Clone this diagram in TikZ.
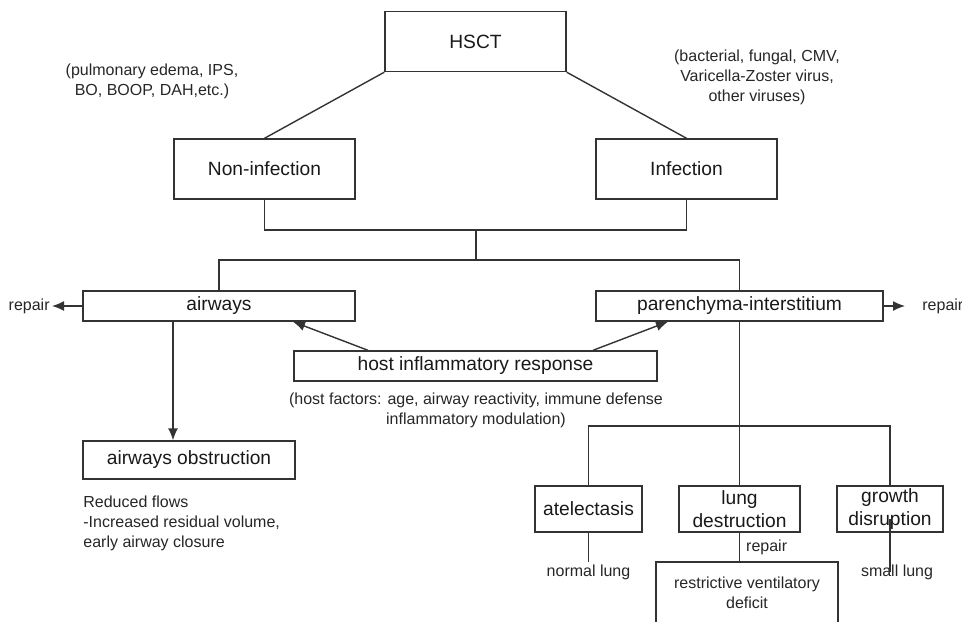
\documentclass[tikz,border=0pt]{standalone}
\usepackage{fontspec}
\setmainfont{Liberation Sans}
\usetikzlibrary{calc}
\usetikzlibrary{arrows.meta}

\begin{document}
\begin{tikzpicture}[x=.5pt,y=-.5pt,
  box/.style={draw=black!80,line width=.7pt,inner sep=1pt,align=center,text=black!90,font=\fontsize{9.6}{11.5}\selectfont},
  note/.style={inner sep=1pt,align=center,text=black!85,font=\fontsize{8}{10}\selectfont},
  line/.style={draw=black!80,line width=.7pt},
  >={Latex[length=6pt,width=5pt]}]
\useasboundingbox (0,0) rectangle (962,621);
\clip (0,0) rectangle (962,621);
% top level
\node[box, minimum width=90.5pt, minimum height=30pt] (hsct) at (475.5,41.5) {HSCT};
\node[box, minimum width=90.5pt, minimum height=30pt] (noninf) at (264.5,169) {Non-infection};
\node[box, minimum width=90.5pt, minimum height=30pt] (inf) at (686.5,169) {Infection};
\node[note] (noninfnote) at (152,81) {(pulmonary edema, IPS,\\BO, BOOP, DAH,etc.)};
\node[note] (infnote) at (757,77) {(bacterial, fungal, CMV,\\Varicella-Zoster virus,\\other viruses)};
\draw[line] (hsct.south west) -- (noninf.north);
\draw[line] (hsct.south east) -- (inf.north);
% sites
\node[box, minimum width=136pt, minimum height=15pt] (airways) at (219,306) {airways};
\node[box, minimum width=143.5pt, minimum height=15pt] (paren) at (739.5,306) {parenchyma-interstitium};
\node[box, minimum width=181.5pt, minimum height=15pt] (host) at (475.5,366) {host inflammatory response};
\node[note] (hostnote) at (476,410) {(host factors: age, airway reactivity, immune defense\\inflammatory modulation)};
\node[note, anchor=east] (repairl) at (52,306) {repair};
\node[note, anchor=west] (repairr) at (920,306) {repair};
\coordinate (join) at (476,230);
\coordinate (fork) at (476,260);
\draw[line] (noninf.south) |- (join) -| (inf.south);
\draw[line] (join) -- (fork);
\draw[line] (airways.north) |- (fork) -| (paren.north);
\draw[line,->] (airways.west) -- (repairl.east);
\draw[line,->,shorten >=7.5pt] (paren.east) -- (repairr.west);
\draw[line,->] ([xshift=-53.75pt]host.north) -- ([xshift=37pt]airways.south);
\draw[line,->] ([xshift=58.75pt]host.north) -- ([xshift=-35.75pt]paren.south);
% airways branch
\node[box, minimum width=106pt, minimum height=19pt] (obstr) at (189,460) {airways obstruction};
\node[note, anchor=west, align=left] (obstrnote) at (81,523) {Reduced flows\\-Increased residual volume,\\early airway closure};
\draw[line,->] ([xshift=-23pt]airways.south) -- ([xshift=-23pt]airways.south |- obstr.north);
% parenchyma branch
\node[box, minimum width=53.5pt, minimum height=23pt] (atel) at (588.5,509) {atelectasis};
\node[box, minimum width=60.5pt, minimum height=23pt] (lungdes) at (739.5,509) {lung\\destruction};
\node[box, minimum width=53pt, minimum height=23pt] (growth) at (890,509) {growth\\disruption};
\node[note, anchor=north] (normal) at (588.5,562) {normal lung};
\node[note, anchor=north] (small) at (897,562) {small lung};
\node[box, note, draw=black!80, minimum width=91pt, minimum height=31pt] (restr) at (747,593) {restrictive ventilatory\\deficit};
\coordinate (split) at (739.5,426);
\draw[line] (paren.south) -- (lungdes.north);
\draw[line] (atel.north) |- (split) -| (growth.north);
\draw[line] (atel.south) -- (normal.north);
\draw[line] (lungdes.south) -- node[note, right, inner sep=3pt] (repairm) {repair} (lungdes.south |- restr.north);
\draw[line] ([yshift=-5pt]growth.center) -- ([yshift=-5pt]growth.center |- small.north);
\end{tikzpicture}
\end{document}
